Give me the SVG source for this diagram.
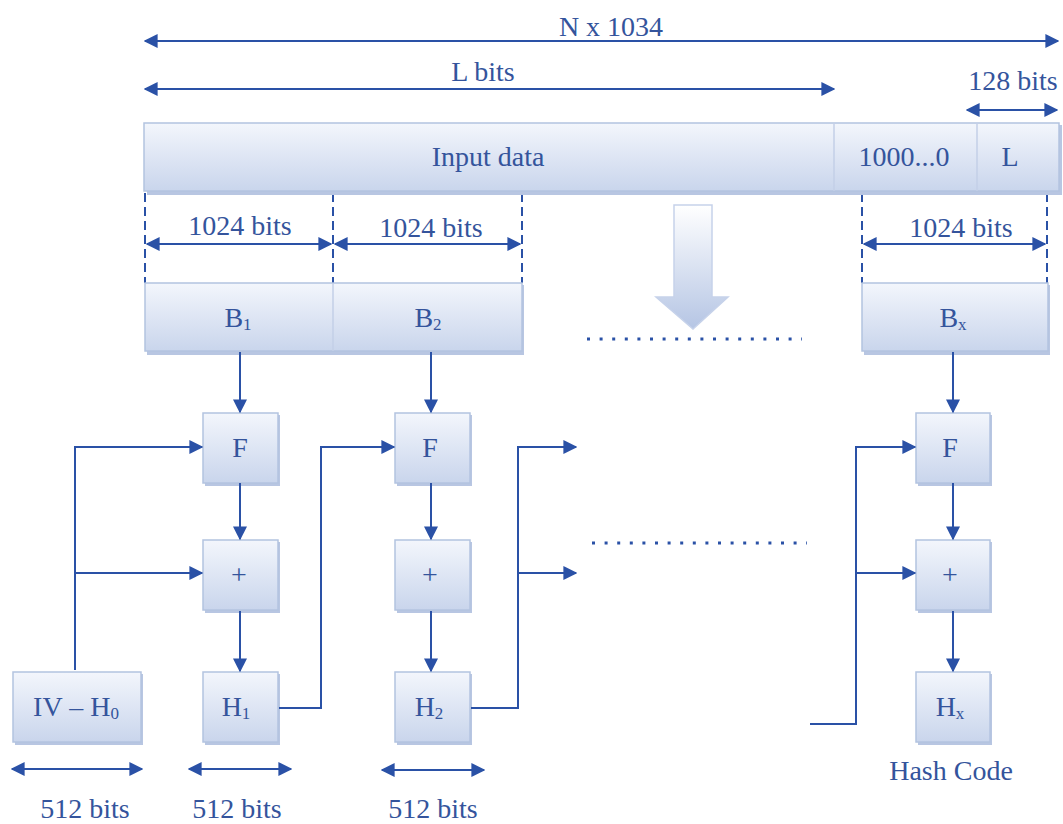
<svg xmlns="http://www.w3.org/2000/svg" width="1063" height="824" viewBox="0 0 1063 824">
<style>
.t{font-family:"Liberation Serif","Times New Roman",serif;fill:#34549c;font-size:28px;text-anchor:middle}
.s{font-size:17px}
.ln{stroke:#2a51a6;stroke-width:2;fill:none}
.dash{stroke:#2a51a6;stroke-width:2;stroke-dasharray:9 5;fill:none}
.box{fill:url(#g);stroke:#b3c3e0;stroke-width:1.5}
.sh{fill:#b8c6e2}
.dot{stroke:#2a51a6;stroke-width:3;stroke-dasharray:3 9.6;fill:none}
</style>
<defs>
<linearGradient id="g" x1="0" y1="0" x2="0" y2="1">
<stop offset="0" stop-color="#f3f6fc"/>
<stop offset="1" stop-color="#c9d5ec"/>
</linearGradient>
<linearGradient id="ga" x1="0" y1="0" x2="0" y2="1">
<stop offset="0" stop-color="#ffffff"/>
<stop offset="1" stop-color="#b5c5e4"/>
</linearGradient>
<marker id="am" viewBox="0 0 10 10" refX="9" refY="5" markerWidth="14" markerHeight="14" orient="auto-start-reverse" markerUnits="userSpaceOnUse">
<path d="M0,0 L10,5 L0,10 z" fill="#2a51a6"/>
</marker>
</defs>
<rect width="1063" height="824" fill="#ffffff"/>

<g id="dimensions">
<line class="ln" x1="145" y1="41" x2="1058" y2="41" marker-start="url(#am)" marker-end="url(#am)"/>
<text class="t" x="611" y="36">N x 1034</text>
<line class="ln" x1="145" y1="89" x2="834" y2="89" marker-start="url(#am)" marker-end="url(#am)"/>
<text class="t" x="483" y="81">L bits</text>
<line class="ln" x1="967" y1="110" x2="1057" y2="110" marker-start="url(#am)" marker-end="url(#am)"/>
<text class="t" x="1013" y="90">128 bits</text>
<line class="dash" x1="145" y1="193" x2="145" y2="283"/>
<line class="dash" x1="333" y1="193" x2="333" y2="283"/>
<line class="dash" x1="522" y1="193" x2="522" y2="283"/>
<line class="dash" x1="862" y1="193" x2="862" y2="283"/>
<line class="dash" x1="1047" y1="193" x2="1047" y2="283"/>
<line class="ln" x1="147" y1="244" x2="331" y2="244" marker-start="url(#am)" marker-end="url(#am)"/>
<text class="t" x="240" y="235">1024 bits</text>
<line class="ln" x1="335" y1="244" x2="520" y2="244" marker-start="url(#am)" marker-end="url(#am)"/>
<text class="t" x="431" y="237">1024 bits</text>
<line class="ln" x1="864" y1="244" x2="1045" y2="244" marker-start="url(#am)" marker-end="url(#am)"/>
<text class="t" x="961" y="237">1024 bits</text>
<line class="ln" x1="12" y1="769" x2="142" y2="769" marker-start="url(#am)" marker-end="url(#am)"/>
<text class="t" x="85" y="818">512 bits</text>
<line class="ln" x1="189" y1="769" x2="291" y2="769" marker-start="url(#am)" marker-end="url(#am)"/>
<text class="t" x="237" y="818">512 bits</text>
<line class="ln" x1="382" y1="770" x2="484" y2="770" marker-start="url(#am)" marker-end="url(#am)"/>
<text class="t" x="433" y="818">512 bits</text>
<text class="t" x="951" y="780">Hash Code</text>
</g>

<g id="input">
<rect class="sh" x="147" y="125" width="915" height="70"/>
<rect class="box" x="144" y="123" width="915" height="68"/>
<line x1="834" y1="123" x2="834" y2="191" stroke="#c3cfe7" stroke-width="1.5"/>
<line x1="977" y1="123" x2="977" y2="191" stroke="#c3cfe7" stroke-width="1.5"/>
<text class="t" x="488" y="166">Input data</text>
<text class="t" x="904" y="166">1000...0</text>
<text class="t" x="1010" y="166">L</text>
</g>

<g id="blocks">
<rect class="sh" x="147" y="285" width="377" height="70"/>
<rect class="box" x="145" y="283" width="377" height="68"/>
<line x1="333" y1="283" x2="333" y2="351" stroke="#c3cfe7" stroke-width="1.5"/>
<text class="t" x="238" y="327">B<tspan class="s" dy="3">1</tspan></text>
<text class="t" x="428" y="327">B<tspan class="s" dy="3">2</tspan></text>
<rect class="sh" x="864" y="285" width="186" height="70"/>
<rect class="box" x="862" y="283" width="186" height="68"/>
<text class="t" x="953" y="327">B<tspan class="s" dy="3">x</tspan></text>
</g>

<g id="big-arrow">
<path d="M674,205 L712,205 L712,297 L728,297 L693,329 L656,297 L674,297 Z" fill="url(#ga)" stroke="#c6d2ea" stroke-width="1.5"/>
</g>

<g id="col1">
<rect class="sh" x="205" y="415" width="75" height="71"/>
<rect class="box" x="203" y="413" width="75" height="70"/>
<text class="t" x="240" y="457">F</text>
<rect class="sh" x="205" y="542" width="75" height="71"/>
<rect class="box" x="203" y="540" width="75" height="70"/>
<text class="t" x="239" y="584">+</text>
<rect class="sh" x="205" y="674" width="75" height="71"/>
<rect class="box" x="203" y="672" width="75" height="70"/>
<text class="t" x="236" y="716">H<tspan class="s" dy="3">1</tspan></text>
</g>
<g id="iv">
<rect class="sh" x="15" y="674" width="128" height="71"/>
<rect class="box" x="13" y="672" width="128" height="70"/>
<text class="t" x="76" y="716">IV – H<tspan class="s" dy="3">0</tspan></text>
</g>
<g id="col2">
<rect class="sh" x="397" y="415" width="75" height="71"/>
<rect class="box" x="395" y="413" width="75" height="70"/>
<text class="t" x="430" y="457">F</text>
<rect class="sh" x="397" y="542" width="75" height="71"/>
<rect class="box" x="395" y="540" width="75" height="70"/>
<text class="t" x="430" y="584">+</text>
<rect class="sh" x="397" y="674" width="75" height="71"/>
<rect class="box" x="395" y="672" width="75" height="70"/>
<text class="t" x="429" y="716">H<tspan class="s" dy="3">2</tspan></text>
</g>
<g id="colx">
<rect class="sh" x="918" y="415" width="74" height="71"/>
<rect class="box" x="916" y="413" width="74" height="70"/>
<text class="t" x="950" y="457">F</text>
<rect class="sh" x="918" y="542" width="74" height="71"/>
<rect class="box" x="916" y="540" width="74" height="70"/>
<text class="t" x="950" y="584">+</text>
<rect class="sh" x="918" y="674" width="74" height="71"/>
<rect class="box" x="916" y="672" width="74" height="70"/>
<text class="t" x="950" y="716">H<tspan class="s" dy="3">x</tspan></text>
</g>

<g id="connectors">
<line class="ln" x1="240" y1="352" x2="240" y2="412" marker-end="url(#am)"/>
<line class="ln" x1="240" y1="483" x2="240" y2="539" marker-end="url(#am)"/>
<line class="ln" x1="240" y1="611" x2="240" y2="671" marker-end="url(#am)"/>
<line class="ln" x1="431" y1="352" x2="431" y2="412" marker-end="url(#am)"/>
<line class="ln" x1="431" y1="483" x2="431" y2="539" marker-end="url(#am)"/>
<line class="ln" x1="431" y1="611" x2="431" y2="671" marker-end="url(#am)"/>
<line class="ln" x1="953" y1="352" x2="953" y2="412" marker-end="url(#am)"/>
<line class="ln" x1="953" y1="483" x2="953" y2="539" marker-end="url(#am)"/>
<line class="ln" x1="953" y1="611" x2="953" y2="671" marker-end="url(#am)"/>
<polyline class="ln" points="75,670 75,447 202,447" marker-end="url(#am)"/>
<line class="ln" x1="75" y1="573" x2="202" y2="573" marker-end="url(#am)"/>
<polyline class="ln" points="279,708 321,708 321,447 394,447" marker-end="url(#am)"/>
<polyline class="ln" points="471,708 518,708 518,447 576,447" marker-end="url(#am)"/>
<line class="ln" x1="518" y1="573" x2="576" y2="573" marker-end="url(#am)"/>
<polyline class="ln" points="810,724 856,724 856,447 915,447" marker-end="url(#am)"/>
<line class="ln" x1="856" y1="573" x2="915" y2="573" marker-end="url(#am)"/>
<line class="dot" x1="587" y1="339" x2="802" y2="339"/>
<line class="dot" x1="592" y1="543" x2="807" y2="543"/>
</g>
</svg>
